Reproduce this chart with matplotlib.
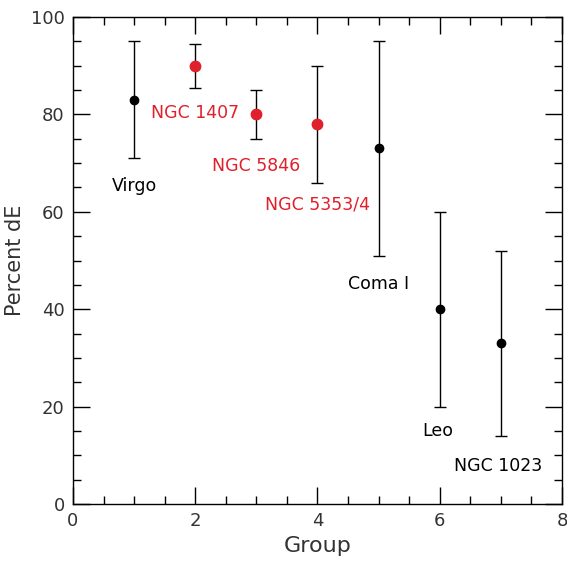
import numpy as np
import matplotlib.pyplot as plt
from matplotlib.ticker import MultipleLocator

# groups
group = [1, 2, 3, 4, 5, 6, 7]
pct_de = [83, 90, 80, 78, 73, 40, 33]
err_lo = [12, 4.5, 5, 12, 22, 20, 19]
err_hi = [12, 4.5, 5, 12, 22, 20, 19]
is_red = [False, True, True, True, False, False, False]

names = ["Virgo", "NGC 1407", "NGC 5846", "NGC 5353/4", "Coma I", "Leo", "NGC 1023"]
label_x = [1.0, 2.0, 3.0, 4.0, 5.0, 5.96, 6.96]
label_y = [65.3, 80.3, 69.4, 61.4, 45.2, 15.0, 7.8]

red = "#e0202a"
grey = "#333333"

fig = plt.figure(figsize=(5.67, 5.63), dpi=100)
ax = fig.add_axes([0.1287, 0.1048, 0.8624, 0.865])

for i in range(len(group)):
    c = red if is_red[i] else "black"
    ax.errorbar(group[i], pct_de[i], yerr=[[err_lo[i]], [err_hi[i]]],
                fmt="o", color=c, ecolor="black", elinewidth=1, capsize=4,
                capthick=1, markersize=7.5 if is_red[i] else 6)
    ax.text(label_x[i], label_y[i], names[i], color=c if is_red[i] else "black",
            ha="center", va="center", fontsize=12.5)

ax.set_xlim(0, 8)
ax.set_ylim(0, 100)
ax.xaxis.set_major_locator(MultipleLocator(2))
ax.xaxis.set_minor_locator(MultipleLocator(0.5))
ax.yaxis.set_major_locator(MultipleLocator(20))
ax.yaxis.set_minor_locator(MultipleLocator(5))
ax.tick_params(which="both", direction="in", top=True, right=True,
               labelsize=13, labelcolor=grey, width=1)
ax.tick_params(which="major", length=12, pad=6)
ax.tick_params(which="minor", length=6)
for s in ax.spines.values():
    s.set_linewidth(1)

ax.set_xlabel("Group", fontsize=16, color=grey, labelpad=4)
ax.set_ylabel("Percent dE", fontsize=15, color=grey, labelpad=4)

fig.savefig("out.png", dpi=100)
